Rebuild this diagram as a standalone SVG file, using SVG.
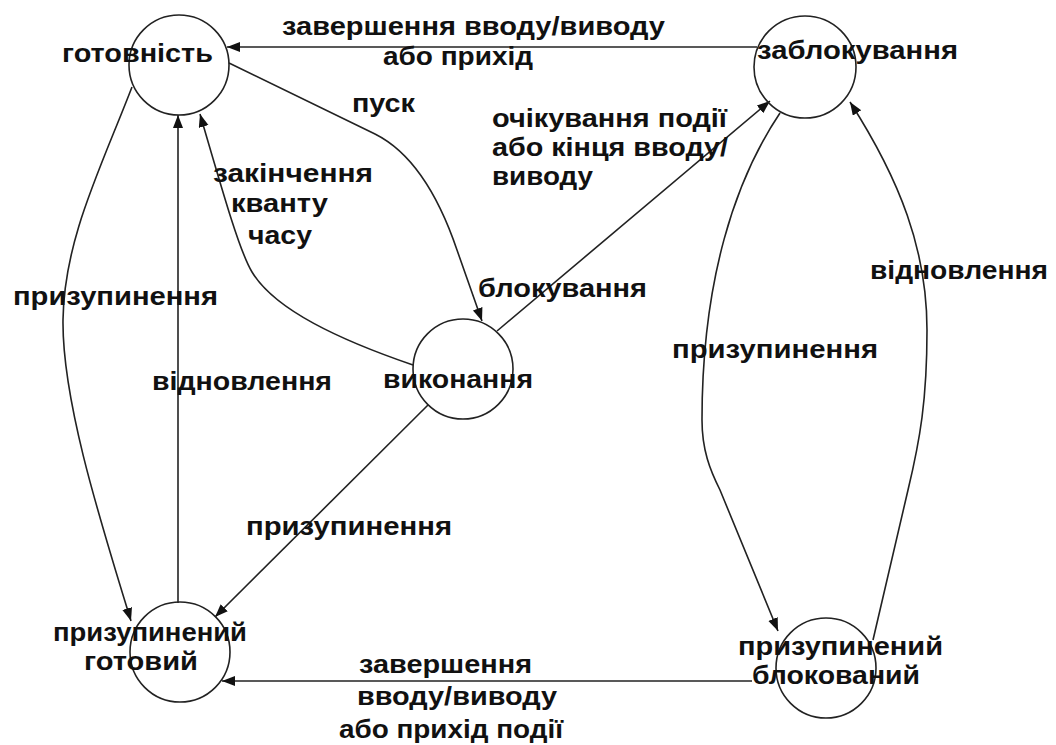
<svg xmlns="http://www.w3.org/2000/svg" width="1056" height="745" viewBox="0 0 1056 745">
<style>
.n{fill:none;stroke:#222;stroke-width:1.6}
.c{fill:none;stroke:#222;stroke-width:1.6}
text{font-family:"Liberation Sans",Arial,sans-serif;font-weight:bold;font-size:25px;fill:#111}
</style>
<defs>
<marker id="ah" markerUnits="userSpaceOnUse" markerWidth="14" markerHeight="11" refX="13" refY="5" orient="auto">
<path d="M0,0 L13,5 L0,10 z" fill="#111"/>
</marker>
</defs>
<rect width="1056" height="745" fill="#fff"/>
<g id="connectors">
<path class="c" d="M757,47 L227,47" marker-end="url(#ah)"/>
<path class="c" d="M229,63 L375,134 C415,154 440,200 457,250 L482,321" marker-end="url(#ah)"/>
<path class="c" d="M413,365 C340,340 275,310 252,272 C240,252 225,200 200,114" marker-end="url(#ah)"/>
<path class="c" d="M132,87 C100,170 64,240 63,320 C62,400 100,520 131,621" marker-end="url(#ah)"/>
<path class="c" d="M178,603 L178,115" marker-end="url(#ah)"/>
<path class="c" d="M428,405 L215,617" marker-end="url(#ah)"/>
<path class="c" d="M497,331 L770,101" marker-end="url(#ah)"/>
<path class="c" d="M780,113 C735,180 702,280 702,420 C702,450 710,470 720,490 L778,631" marker-end="url(#ah)"/>
<path class="c" d="M873,640 L908,490 C920,440 927,400 927,330 C927,250 900,180 850,102" marker-end="url(#ah)"/>
<path class="c" d="M752,681 L222,681" marker-end="url(#ah)"/>
</g>
<g id="node-gotovnist">
<circle class="n" cx="179" cy="65" r="50"/>
<text x="62" y="62" textLength="151" lengthAdjust="spacingAndGlyphs">готовність</text>
</g>
<g id="node-zablokuvannia">
<circle class="n" cx="805" cy="67" r="51"/>
<text x="757" y="59" textLength="201" lengthAdjust="spacingAndGlyphs">заблокування</text>
</g>
<g id="node-vykonannia">
<circle class="n" cx="463" cy="369" r="50"/>
<text x="383" y="388" textLength="150" lengthAdjust="spacingAndGlyphs">виконання</text>
</g>
<g id="node-pryzupynenyi-gotovyi">
<circle class="n" cx="180" cy="652" r="50"/>
<text x="53" y="641" textLength="194" lengthAdjust="spacingAndGlyphs">призупинений</text>
<text x="84" y="670" textLength="114" lengthAdjust="spacingAndGlyphs">готовий</text>
</g>
<g id="node-pryzupynenyi-blokovanyi">
<circle class="n" cx="826" cy="668" r="50"/>
<text x="738" y="655" textLength="205" lengthAdjust="spacingAndGlyphs">призупинений</text>
<text x="752" y="684" textLength="168" lengthAdjust="spacingAndGlyphs">блокований</text>
</g>
<g id="labels">
<text x="282" y="35" textLength="383" lengthAdjust="spacingAndGlyphs">завершення вводу/виводу</text>
<text x="383" y="65" textLength="150" lengthAdjust="spacingAndGlyphs">або прихід</text>
<text x="352" y="112" textLength="63" lengthAdjust="spacingAndGlyphs">пуск</text>
<text x="492" y="127" textLength="235" lengthAdjust="spacingAndGlyphs">очікування події</text>
<text x="492" y="156" textLength="236" lengthAdjust="spacingAndGlyphs">або кінця вводу/</text>
<text x="492" y="185" textLength="101" lengthAdjust="spacingAndGlyphs">виводу</text>
<text x="213" y="182" textLength="160" lengthAdjust="spacingAndGlyphs">закінчення</text>
<text x="231" y="212" textLength="97" lengthAdjust="spacingAndGlyphs">кванту</text>
<text x="248" y="244" textLength="64" lengthAdjust="spacingAndGlyphs">часу</text>
<text x="13" y="305" textLength="205" lengthAdjust="spacingAndGlyphs">призупинення</text>
<text x="152" y="390" textLength="180" lengthAdjust="spacingAndGlyphs">відновлення</text>
<text x="478" y="297" textLength="169" lengthAdjust="spacingAndGlyphs">блокування</text>
<text x="246" y="535" textLength="206" lengthAdjust="spacingAndGlyphs">призупинення</text>
<text x="870" y="279" textLength="178" lengthAdjust="spacingAndGlyphs">відновлення</text>
<text x="672" y="358" textLength="206" lengthAdjust="spacingAndGlyphs">призупинення</text>
<text x="359" y="673" textLength="173" lengthAdjust="spacingAndGlyphs">завершення</text>
<text x="357" y="705" textLength="200" lengthAdjust="spacingAndGlyphs">вводу/виводу</text>
<text x="339" y="738" textLength="224" lengthAdjust="spacingAndGlyphs">або прихід події</text>
</g>
</svg>
